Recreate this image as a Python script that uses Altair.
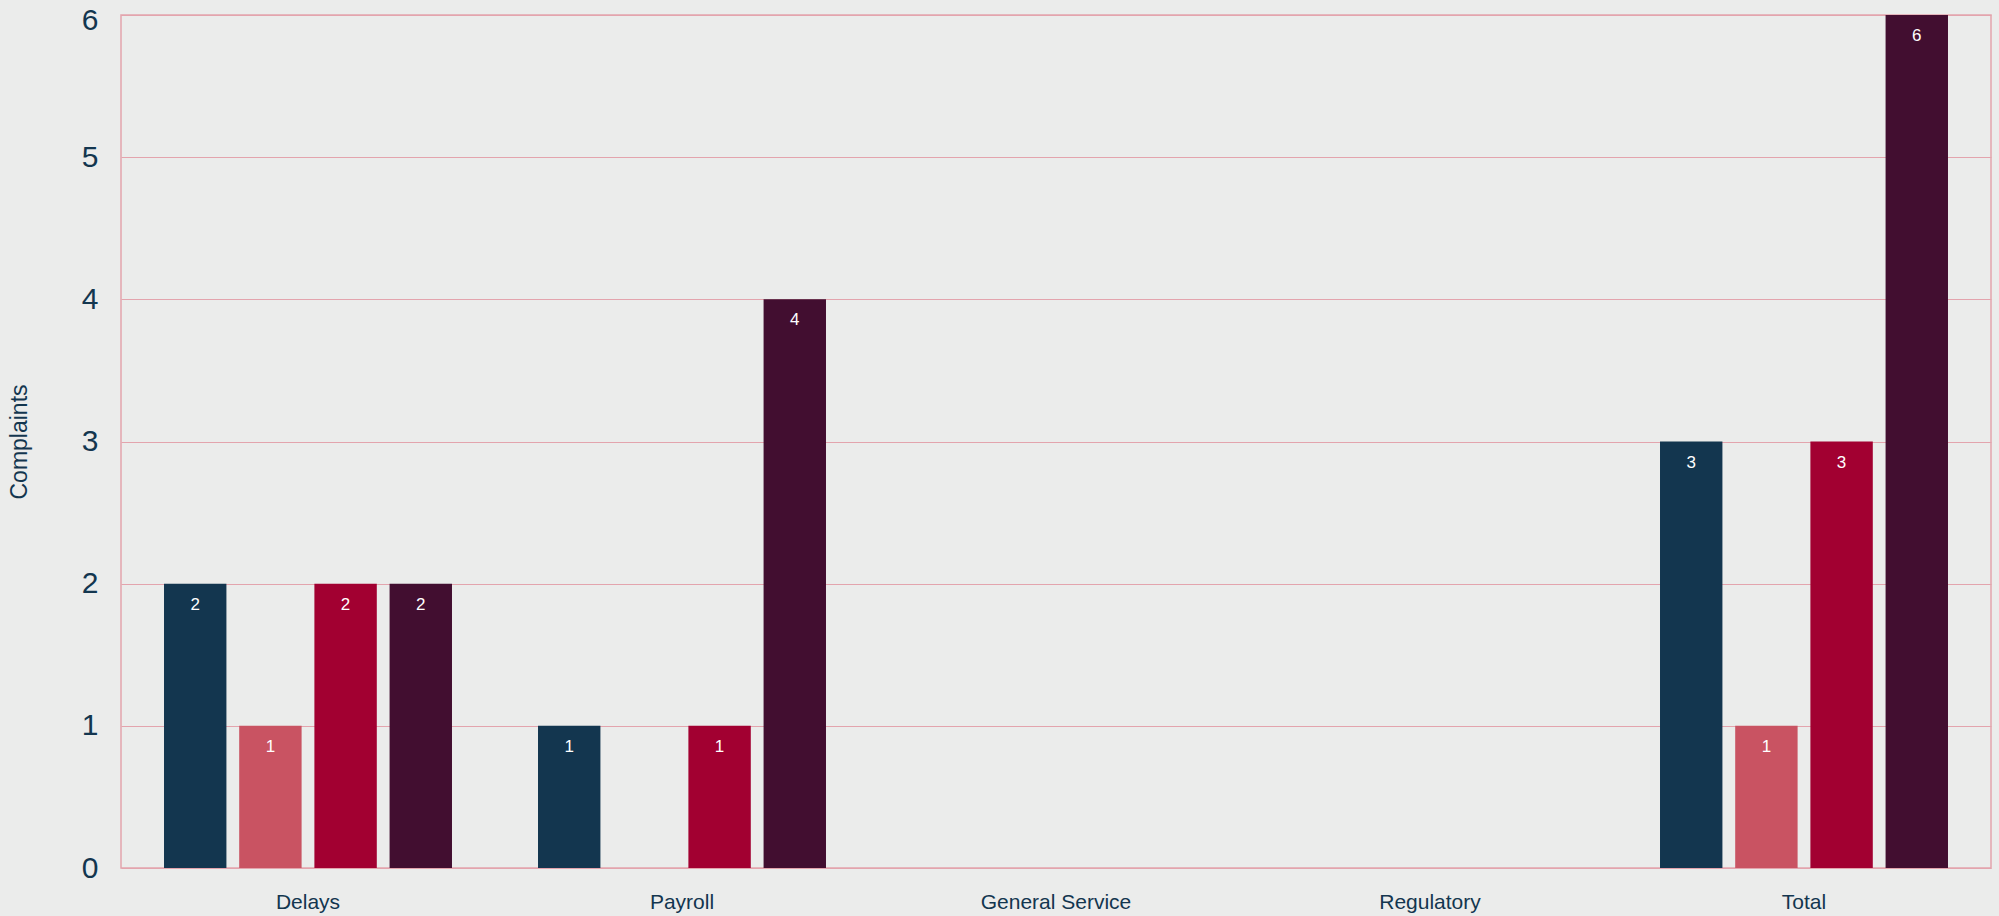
import altair as alt
import pandas as pd

categories = ["Delays", "Payroll", "General Service", "Regulatory", "Total"]
series = ["Series 1", "Series 2", "Series 3", "Series 4"]
series_1 = [2, 1, 0, 0, 3]
series_2 = [1, 0, 0, 0, 1]
series_3 = [2, 1, 0, 0, 3]
series_4 = [2, 4, 0, 0, 6]
y_ticks = [0, 1, 2, 3, 4, 5, 6]
colors = ["#13364f", "#c95362", "#a20031", "#420e30"]

values = [series_1, series_2, series_3, series_4]
rows = []
for s, vals in zip(series, values):
    for c, v in zip(categories, vals):
        rows.append({"category": c, "series": s, "value": v})
df = pd.DataFrame(rows)

navy = "#13364f"
pink = "#e3a4ad"
font = "Liberation Sans"

base = alt.Chart(df).encode(
    x=alt.X(
        "category:N",
        sort=categories,
        scale=alt.Scale(paddingInner=0.23, paddingOuter=0.115),
        axis=alt.Axis(
            title=None, labelAngle=0, labelFontSize=21, labelColor=navy,
            labelFont=font, ticks=False, domain=False, labelPadding=23,
            grid=False,
        ),
    ),
    xOffset=alt.XOffset(
        "series:N", sort=series,
        scale=alt.Scale(paddingInner=0.17, paddingOuter=0),
    ),
)

yenc = alt.Y(
    "value:Q",
    scale=alt.Scale(domain=[0, 6], nice=False),
    axis=alt.Axis(
        title="Complaints", titleFontSize=23, titleFontWeight="normal",
        titleColor=navy, titleFont=font, titleX=-102, titleY=426.5,
        titleAngle=270, titleAlign="center", titleBaseline="middle",
        labelFontSize=30, labelColor=navy, labelFont=font, labelPadding=23,
        labelOffset={"condition": {"test": "datum.value == 6", "value": 5}, "value": 0},
        values=y_ticks, format="d", labelOverlap=False, ticks=False, domain=False,
        grid=True, gridColor=pink, gridWidth=1,
    ),
)

bars = base.mark_bar().encode(
    y=yenc,
    color=alt.Color("series:N", scale=alt.Scale(domain=series, range=colors), legend=None),
)

labels = base.transform_filter("datum.value > 0").mark_text(
    color="white", fontSize=17, font=font, baseline="middle", dy=21,
).encode(
    y=alt.Y("value:Q"),
    text=alt.Text("value:Q"),
)

chart = alt.layer(bars, labels).properties(
    width=1870,
    height=853,
    autosize=alt.AutoSizeParams(type="none"),
    padding={"left": 121, "top": 15, "right": 8, "bottom": 48},
    background="#ebeceb",
).configure_view(stroke=pink, strokeWidth=1.5)

chart.save("out.html", embed_options={"renderer": "svg", "actions": False})
